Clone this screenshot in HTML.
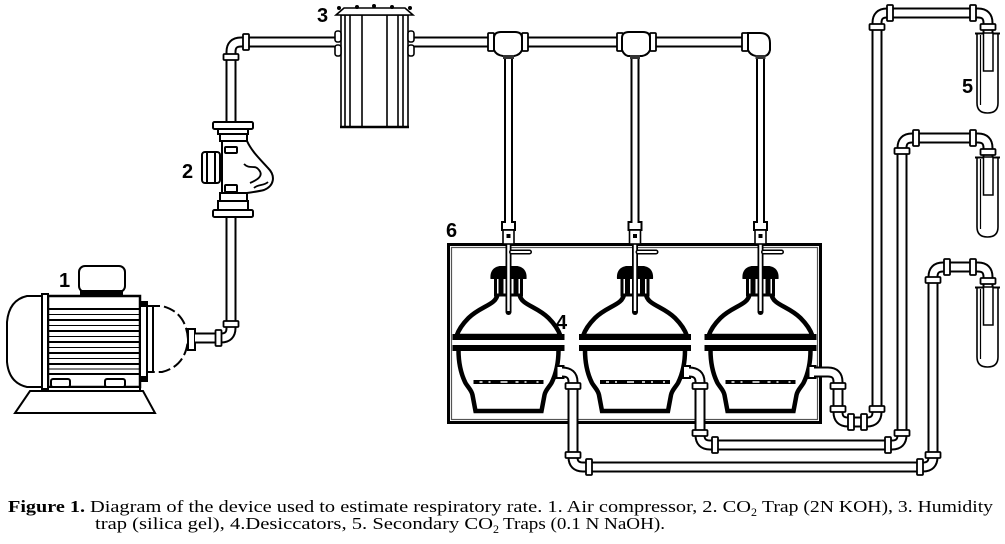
<!DOCTYPE html>
<html><head><meta charset="utf-8"><style>
html,body{margin:0;padding:0;background:#fff;}
svg{display:block;}
</style></head><body>
<svg width="1005" height="544" viewBox="0 0 1005 544" xmlns="http://www.w3.org/2000/svg">
<defs>
<g id="des">
 <path d="M-11 294 C-12 305 -28 306 -40 318 C-46 324 -50 330 -52 336 L52 336 C50 330 46 324 40 318 C28 306 12 305 11 294 Z" fill="#fff" stroke="#000" stroke-width="4.5"/>
 <path d="M-50 350 C-50 365 -47 375 -43 383 C-40 388 -37 390 -36 395 L-33 411 L33 411 L36 395 C37 390 40 388 43 383 C47 375 50 365 50 350" fill="#fff" stroke="#000" stroke-width="4.5"/>
 <rect x="-56" y="334" width="112" height="6" fill="#000"/>
 <rect x="-56" y="345" width="112" height="6" fill="#000"/>
 <line x1="-35" y1="382" x2="35" y2="382" stroke="#000" stroke-width="4"/>
 <line x1="-29" y1="382" x2="30" y2="382" stroke="#fff" stroke-width="1.5" stroke-dasharray="3 6 2 10 7 8"/>
 <rect x="-13" y="276" width="26" height="19" fill="#fff" stroke="#000" stroke-width="3"/>
 <path d="M-18 279 Q-19 268 -9 266 L9 266 Q19 268 18 279 Z" fill="#000"/>
 <rect x="-10" y="278" width="5" height="17" fill="#000"/>
 <rect x="5" y="278" width="5" height="17" fill="#000"/>
 <line x1="0" y1="244" x2="0" y2="312" stroke="#000" stroke-width="6" stroke-linecap="round"/>
 <line x1="0" y1="244" x2="0" y2="311" stroke="#fff" stroke-width="2.5"/>
 <path d="M3 252 L21 252" stroke="#000" stroke-width="5" stroke-linecap="round"/>
 <path d="M3 252 L21 252" stroke="#fff" stroke-width="2" stroke-linecap="round"/>
 <rect x="-6.5" y="222" width="13" height="8" fill="#fff" stroke="#000" stroke-width="2"/>
 <rect x="-5.5" y="230" width="11" height="14" fill="#fff" stroke="#000" stroke-width="1.6"/>
 <rect x="-2" y="234" width="4" height="4" fill="#000"/>
 <rect x="48" y="366" width="7" height="12" fill="#fff" stroke="#000" stroke-width="2"/>
</g>
<g id="tube">
 <path d="M0 0 L0 70 Q0 80 10.5 80 Q21 80 21 70 L21 0" fill="#fff" stroke="#000" stroke-width="1.6"/>
 <line x1="-2" y1="0.5" x2="23" y2="0.5" stroke="#000" stroke-width="2"/>
 <line x1="3.5" y1="2" x2="3.5" y2="72" stroke="#000" stroke-width="1.2"/>
 <rect x="6.5" y="0" width="9.5" height="38" fill="#fff" stroke="#000" stroke-width="1.5"/>
</g>
</defs>

<!-- Box 6 -->
<rect x="448.5" y="244.5" width="372" height="178" fill="none" stroke="#000" stroke-width="3"/>
<rect x="451.5" y="247.5" width="366" height="172" fill="none" stroke="#555" stroke-width="1.2"/>

<!-- Desiccators -->
<use href="#des" transform="translate(508.5,0)"/>
<use href="#des" transform="translate(635,0)"/>
<use href="#des" transform="translate(760.5,0)"/>

<!-- Motor -->
<g stroke="#000" fill="#fff" stroke-width="2">
 <path d="M44 296 L27 296 Q9 300 7 322 L7 362 Q9 383 27 387 L44 387"/>
 <rect x="48" y="296" width="92" height="91" stroke-width="2.5"/>
 <rect x="42" y="294" width="6" height="95"/>
 <rect x="79" y="266" width="46" height="26" rx="6"/>
 <rect x="81" y="291" width="41" height="5" fill="#000"/>
 <rect x="48" y="387" width="92" height="4"/>
 <path d="M30 391 L143 391 L155 413 L15 413 Z"/>
 <rect x="51" y="379" width="19" height="8" rx="2"/>
 <rect x="105" y="379" width="20" height="8" rx="2"/>
 <rect x="140" y="302" width="7" height="79"/>
 <path d="M148 306 L162 306 Q186 312 188 339 Q186 366 162 372 L148 372" stroke-dasharray="12 4"/>
 <line x1="153" y1="307" x2="153" y2="371"/>
 <rect x="188" y="329" width="7" height="21"/>
</g>
<g stroke="#000" stroke-width="2">
 <line x1="49" y1="309" x2="139" y2="309"/>
 <line x1="49" y1="320" x2="139" y2="320"/>
 <line x1="49" y1="331" x2="139" y2="331"/>
 <line x1="49" y1="342" x2="139" y2="342"/>
 <line x1="49" y1="353" x2="139" y2="353"/>
 <line x1="49" y1="364" x2="139" y2="364"/>
 <line x1="49" y1="374" x2="139" y2="374"/>
</g>
<g stroke="#000" stroke-width="1">
 <line x1="49" y1="314.5" x2="139" y2="314.5"/>
 <line x1="49" y1="325.5" x2="139" y2="325.5"/>
 <line x1="49" y1="336.5" x2="139" y2="336.5"/>
 <line x1="49" y1="347.5" x2="139" y2="347.5"/>
 <line x1="49" y1="358.5" x2="139" y2="358.5"/>
 <line x1="49" y1="369" x2="139" y2="369"/>
</g>
<rect x="139" y="302" width="9" height="5" fill="#000"/>
<rect x="139" y="376" width="9" height="5" fill="#000"/>

<!-- Pipes outer -->
<g fill="none" stroke="#000" stroke-width="11">
 <path d="M195 338 L221 338 Q231 338 231 328 L231 216"/>
 <path d="M231 123 L231 52 Q231 42 241 42 L336 42"/>
 <path d="M413 42 L750 42"/>
 <path d="M562 372 Q573 372 573 382 L573 457 Q573 467 583 467 L923 467 Q933 467 933 457 L933 277 Q933 267 943 267 L978 267 Q988 267 988 277 L988 288"/>
 <path d="M689 372 Q700 372 700 382 L700 435 Q700 445 710 445 L892 445 Q902 445 902 435 L902 148 Q902 138 912 138 L978 138 Q988 138 988 148 L988 158"/>
 <path d="M814 372 L828 372 Q838 372 838 382 L838 412 Q838 422 848 422 L867 422 Q877 422 877 412 L877 23 Q877 13 887 13 L978 13 Q988 13 988 23 L988 34"/>
</g>
<g fill="none" stroke="#000" stroke-width="9">
 <path d="M508.5 56 L508.5 223"/>
 <path d="M635 56 L635 223"/>
 <path d="M760.5 56 L760.5 223"/>
</g>
<!-- Pipes inner -->
<g fill="none" stroke="#fff" stroke-width="7">
 <path d="M195 338 L221 338 Q231 338 231 328 L231 216"/>
 <path d="M231 123 L231 52 Q231 42 241 42 L336 42"/>
 <path d="M413 42 L750 42"/>
 <path d="M562 372 Q573 372 573 382 L573 457 Q573 467 583 467 L923 467 Q933 467 933 457 L933 277 Q933 267 943 267 L978 267 Q988 267 988 277 L988 288"/>
 <path d="M689 372 Q700 372 700 382 L700 435 Q700 445 710 445 L892 445 Q902 445 902 435 L902 148 Q902 138 912 138 L978 138 Q988 138 988 148 L988 158"/>
 <path d="M814 372 L828 372 Q838 372 838 382 L838 412 Q838 422 848 422 L867 422 Q877 422 877 412 L877 23 Q877 13 887 13 L978 13 Q988 13 988 23 L988 34"/>
</g>
<g fill="none" stroke="#fff" stroke-width="5">
 <path d="M508.5 56 L508.5 223"/>
 <path d="M635 56 L635 223"/>
 <path d="M760.5 56 L760.5 223"/>
</g>

<!-- Collars -->
<g fill="#fff" stroke="#000" stroke-width="1.8">
 <rect x="215.5" y="330" width="6" height="16" rx="1"/>
 <rect x="223.5" y="321" width="15" height="6" rx="1"/>
 <rect x="223.5" y="54" width="15" height="6" rx="1"/>
 <rect x="243" y="34" width="6" height="16" rx="1"/>
 <rect x="488" y="33" width="6" height="18" rx="1"/>
 <rect x="522" y="33" width="6" height="18" rx="1"/>
 <rect x="617" y="33" width="6" height="18" rx="1"/>
 <rect x="650" y="33" width="6" height="18" rx="1"/>
 <rect x="742" y="33" width="6" height="18" rx="1"/>
 <!-- out1 -->
 <rect x="565.5" y="383" width="15" height="6" rx="1"/>
 <rect x="565.5" y="452" width="15" height="6" rx="1"/>
 <rect x="586" y="459" width="6" height="16" rx="1"/>
 <rect x="917" y="459" width="6" height="16" rx="1"/>
 <rect x="925.5" y="452" width="15" height="6" rx="1"/>
 <rect x="925.5" y="277" width="15" height="6" rx="1"/>
 <rect x="944" y="259" width="6" height="16" rx="1"/>
 <rect x="970" y="259" width="6" height="16" rx="1"/>
 <rect x="980.5" y="278" width="15" height="6" rx="1"/>
 <!-- out2 -->
 <rect x="692.5" y="383" width="15" height="6" rx="1"/>
 <rect x="692.5" y="430" width="15" height="6" rx="1"/>
 <rect x="712" y="437" width="6" height="16" rx="1"/>
 <rect x="885" y="437" width="6" height="16" rx="1"/>
 <rect x="894.5" y="430" width="15" height="6" rx="1"/>
 <rect x="894.5" y="148" width="15" height="6" rx="1"/>
 <rect x="913" y="130" width="6" height="16" rx="1"/>
 <rect x="970" y="130" width="6" height="16" rx="1"/>
 <rect x="980.5" y="149" width="15" height="6" rx="1"/>
 <!-- out3 -->
 <rect x="830.5" y="383" width="15" height="6" rx="1"/>
 <rect x="830.5" y="406" width="15" height="6" rx="1"/>
 <rect x="848" y="414" width="6" height="16" rx="1"/>
 <rect x="861" y="414" width="6" height="16" rx="1"/>
 <rect x="869.5" y="406" width="15" height="6" rx="1"/>
 <rect x="869.5" y="24" width="15" height="6" rx="1"/>
 <rect x="887" y="5" width="6" height="16" rx="1"/>
 <rect x="970" y="5" width="6" height="16" rx="1"/>
 <rect x="980.5" y="24" width="15" height="6" rx="1"/>
</g>

<!-- Tees -->
<g fill="#fff" stroke="#000" stroke-width="2">
 <path d="M494 50 L494 38 Q494 32 501 32 L515 32 Q522 32 522 38 L522 50 Q520 55 514 56 L503 56 Q496 55 494 50 Z"/>
 <path d="M622 50 L622 38 Q622 32 629 32 L643 32 Q650 32 650 38 L650 50 Q648 55 642 56 L628 56 Q624 55 622 50 Z"/>
 <path d="M748 33 L760 33 Q770 33 770 43 L770 50 Q769 55 765 56 L756 56 Q750 55 748 50 Z"/>
</g>
<g fill="#333">
 <rect x="503" y="55" width="11" height="4"/>
 <rect x="630" y="55" width="10" height="4"/>
 <rect x="755.5" y="55" width="10" height="4"/>
</g>

<!-- Trap 2 -->
<g stroke="#000" fill="#fff" stroke-width="2">
 <rect x="213" y="122" width="40" height="7" rx="1.5"/>
 <rect x="218" y="129" width="30" height="5"/>
 <rect x="220" y="134" width="27" height="7"/>
 <path d="M222 141 L222 193 L247 193 C254 192 260 191 264 190 C274 186 276 176 268 168 C261 160 252 152 247 141 Z"/>
 <path d="M244 164 C250 170 255 164 259 170 C264 176 257 180 250 183" fill="none" stroke-width="1.8"/>
 <path d="M254 188 C258 184 264 186 268 182" fill="none" stroke-width="1.8"/>
 <rect x="225" y="147" width="12" height="6" rx="1"/>
 <rect x="202" y="152" width="18" height="31" rx="3"/>
 <line x1="207" y1="153" x2="207" y2="182"/>
 <line x1="215" y1="153" x2="215" y2="182"/>
 <rect x="225" y="185" width="12" height="7" rx="1"/>
 <rect x="220" y="193" width="27" height="8"/>
 <rect x="218" y="201" width="30" height="9"/>
 <rect x="213" y="210" width="40" height="7" rx="1.5"/>
</g>

<!-- Humidity trap 3 -->
<g stroke="#000" fill="#fff" stroke-width="1.6">
 <rect x="341" y="15" width="67" height="112"/>
 <path d="M336 15 L344 8 L405 8 L413 15 Z"/>
 <line x1="345" y1="15" x2="345" y2="127"/>
 <line x1="350" y1="15" x2="350" y2="127"/>
 <line x1="362" y1="15" x2="362" y2="127"/>
 <line x1="387" y1="15" x2="387" y2="127"/>
 <line x1="398" y1="15" x2="398" y2="127"/>
 <line x1="403" y1="15" x2="403" y2="127"/>
 <line x1="340" y1="127" x2="409" y2="127" stroke-width="2.5"/>
 <rect x="335" y="31" width="6" height="11" rx="2.5"/>
 <rect x="335" y="45" width="6" height="11" rx="2.5"/>
 <rect x="408" y="31" width="6" height="11" rx="2.5"/>
 <rect x="408" y="45" width="6" height="11" rx="2.5"/>
</g>
<g fill="#000">
 <circle cx="339" cy="8" r="2"/><circle cx="357" cy="7" r="2"/><circle cx="374" cy="6" r="2"/>
 <circle cx="392" cy="7" r="2"/><circle cx="410" cy="8" r="2"/>
</g>

<!-- Test tubes -->
<use href="#tube" transform="translate(977,33)"/>
<use href="#tube" transform="translate(977,157)"/>
<use href="#tube" transform="translate(977,287)"/>

<!-- Labels -->
<g font-family="Liberation Sans, sans-serif" font-weight="bold" font-size="20" fill="#000">
 <text x="59" y="287">1</text>
 <text x="182" y="178">2</text>
 <text x="317" y="22">3</text>
 <text x="556" y="329">4</text>
 <text x="962" y="93">5</text>
 <text x="446" y="237">6</text>
</g>

<!-- Caption -->
<g font-family="Liberation Serif, serif" font-size="17" fill="#000">
 <text x="8" y="512" font-weight="bold" textLength="77" lengthAdjust="spacingAndGlyphs">Figure 1.</text>
 <text x="90" y="512" textLength="661" lengthAdjust="spacingAndGlyphs">Diagram of the device used to estimate respiratory rate. 1. Air compressor, 2. CO</text>
 <text x="751" y="516" font-size="12">2</text>
 <text x="762" y="512" textLength="231" lengthAdjust="spacingAndGlyphs">Trap (2N KOH), 3. Humidity</text>
 <text x="95" y="529" textLength="398" lengthAdjust="spacingAndGlyphs">trap (silica gel), 4.Desiccators, 5. Secondary CO</text>
 <text x="493" y="533" font-size="12">2</text>
 <text x="503" y="529" textLength="162" lengthAdjust="spacingAndGlyphs">Traps (0.1 N NaOH).</text>
</g>
</svg>
</body></html>
